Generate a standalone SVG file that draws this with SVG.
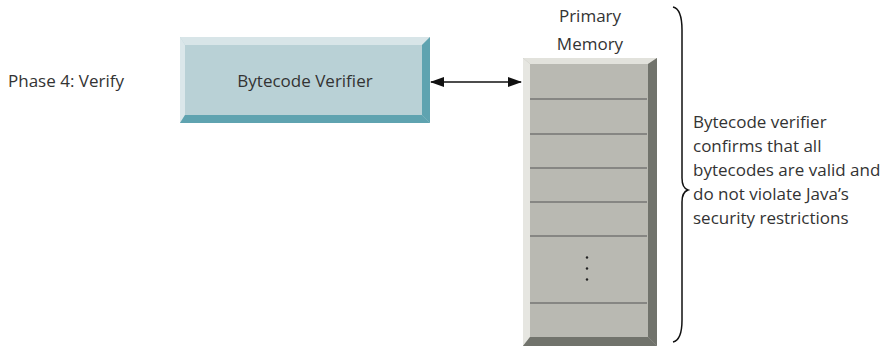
<svg xmlns="http://www.w3.org/2000/svg" width="881" height="347" viewBox="0 0 881 347">
<defs>
<style>
text{font-family:"Open Sans","Noto Sans",sans-serif;font-size:17px;fill:#333;}
.sep{stroke:#555;stroke-width:1.2;}
</style>
<marker id="ah" markerWidth="14" markerHeight="10" refX="13" refY="5" orient="auto-start-reverse" markerUnits="userSpaceOnUse">
<path d="M0,0 L14,5 L0,10 Z" fill="#111"/>
</marker>
</defs>
<rect width="881" height="347" fill="#fff"/>
<text x="8" y="87">Phase 4: Verify</text>
<g id="verifier">
<rect x="180" y="37" width="250" height="86" fill="#b9d1d6"/>
<polygon points="180,37 430,37 422,45 185,45" fill="#d8e5e8"/>
<polygon points="180,37 185,45 185,115 180,123" fill="#dbe7ea"/>
<polygon points="430,37 430,123 422,115 422,45" fill="#5fa3b0"/>
<polygon points="180,123 430,123 422,115 185,115" fill="#5fa3b0"/>
<text x="305" y="87" text-anchor="middle">Bytecode Verifier</text>
</g>
<g id="memory">
<text x="590" y="22" text-anchor="middle">Primary</text>
<text x="590" y="50" text-anchor="middle">Memory</text>
<rect x="523" y="58" width="134" height="288" fill="#b9b9b2"/>
<polygon points="523,58 657,58 648,64 530,64" fill="#e2e2dc"/>
<polygon points="523,58 530,64 530,337 523,346" fill="#e6e6e1"/>
<polygon points="657,58 657,346 648,337 648,64" fill="#71736c"/>
<polygon points="523,346 657,346 648,337 530,337" fill="#71736c"/>
<line class="sep" x1="530" y1="99" x2="647" y2="99"/>
<line class="sep" x1="530" y1="134" x2="647" y2="134"/>
<line class="sep" x1="530" y1="168" x2="647" y2="168"/>
<line class="sep" x1="530" y1="202" x2="647" y2="202"/>
<line class="sep" x1="530" y1="236" x2="647" y2="236"/>
<line class="sep" x1="530" y1="303" x2="647" y2="303"/>
<circle cx="587" cy="257.5" r="1.2" fill="#222"/>
<circle cx="587" cy="268.5" r="1.2" fill="#222"/>
<circle cx="587" cy="279.5" r="1.2" fill="#222"/>
</g>
<g id="connectors">
<line x1="431" y1="82" x2="521" y2="82" stroke="#111" stroke-width="1.3" marker-start="url(#ah)" marker-end="url(#ah)"/>
<path d="M673,7 Q682,9 682,30 L682,178 Q682,188 688,190 Q682,192 682,202 L682,320 Q682,340 673,342" fill="none" stroke="#111" stroke-width="1.5"/>
</g>
<g id="note">
<text x="693" y="128">Bytecode verifier</text>
<text x="693" y="152">confirms that all</text>
<text x="693" y="176">bytecodes are valid and</text>
<text x="693" y="200">do not violate Java’s</text>
<text x="693" y="224">security restrictions</text>
</g>
</svg>
